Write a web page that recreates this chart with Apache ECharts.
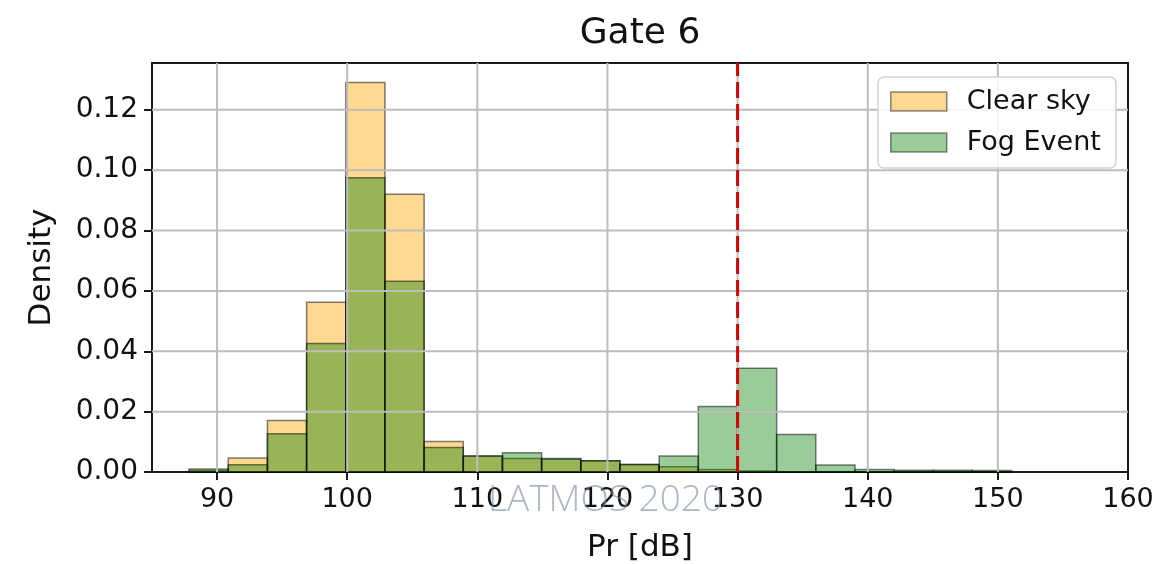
<!DOCTYPE html>
<html>
<head>
<meta charset="utf-8">
<script src="https://cdn.jsdelivr.net/npm/echarts@6/dist/echarts.min.js"></script>
<style>
  html, body { margin: 0; padding: 0; background: #fff; }
  #chart { width: 1167px; height: 564px; }
</style>
</head>
<body>
<div id="chart"></div>
<script>
// Histogram bin edges (dB) shared by both distributions
const binEdges = [87.85, 90.86, 93.87, 96.88, 99.89, 102.90, 105.91, 108.92, 111.93,
  114.94, 117.95, 120.96, 123.97, 126.98, 129.99, 133.00, 136.01, 139.02,
  142.03, 145.04, 148.05, 151.06];

// Density per bin
const clearSky = [0.0005, 0.0046, 0.0171, 0.0562, 0.1290, 0.0920, 0.0101, 0.0053,
  0.0045, 0.0042, 0.0037, 0.0025, 0.0017, 0.0008, 0.0003, 0, 0, 0, 0, 0, 0];
const fogEvent = [0.0010, 0.0024, 0.0127, 0.0426, 0.0975, 0.0632, 0.0081, 0.0053,
  0.0064, 0.0045, 0.0037, 0.0025, 0.0053, 0.0217, 0.0344, 0.0124, 0.0023,
  0.0008, 0.0006, 0.0006, 0.0005];

// Axis ticks
const xTicks = [90, 100, 110, 120, 130, 140, 150, 160];
const yTicks = [0, 0.02, 0.04, 0.06, 0.08, 0.10, 0.12];

// Threshold marker
const threshold = [130];

const seriesNames = ['Clear sky', 'Fog Event'];
const titleText = 'Gate 6';
const xName = 'Pr [dB]';
const yName = 'Density';
const watermark = 'LATMOS 2020';

const FONT = 'DejaVu Sans';
const clearFill = 'rgba(255,165,0,0.43)';
const fogFill = 'rgba(0,128,0,0.40)';
const edge = 'rgba(0,0,0,0.5)';

function histData(values) {
  return values.map((v, i) => [binEdges[i], binEdges[i + 1], v]);
}

function barRenderer(fill) {
  return function (params, api) {
    const x0 = api.value(0), x1 = api.value(1), y = api.value(2);
    const pTop = api.coord([x0, y]);
    const pBot = api.coord([x1, 0]);
    return {
      type: 'rect',
      shape: { x: pTop[0], y: pTop[1], width: pBot[0] - pTop[0], height: pBot[1] - pTop[1] },
      style: { fill: fill, stroke: edge, lineWidth: 1.5 }
    };
  };
}

const chart = echarts.init(document.getElementById('chart'));

chart.setOption({
  animation: false,
  backgroundColor: '#fff',
  title: {
    text: titleText,
    left: 640,
    textAlign: 'center',
    top: 16,
    padding: 0,
    textStyle: { fontFamily: FONT, fontSize: 36, fontWeight: 'normal', color: '#111' }
  },
  grid: {
    left: 152, top: 63, width: 976, height: 409,
    outerBoundsMode: 'none', containLabel: false,
    show: true, borderColor: '#1a1a1a', borderWidth: 2, backgroundColor: 'transparent'
  },
  legend: {
    orient: 'vertical',
    left: 878, top: 77,
    padding: [11, 15, 12, 12],
    itemWidth: 56, itemHeight: 19, itemGap: 14,
    backgroundColor: 'rgba(255,255,255,0.85)',
    borderColor: '#d2d2d2', borderWidth: 1.5, borderRadius: 6,
    icon: 'rect',
    textStyle: { fontFamily: FONT, fontSize: 27, color: '#111', lineHeight: 20, padding: [0, 0, 0, 15] },
    data: [
      { name: seriesNames[0], itemStyle: { color: clearFill, borderColor: 'rgba(0,0,0,0.45)', borderWidth: 1.5 } },
      { name: seriesNames[1], itemStyle: { color: fogFill, borderColor: 'rgba(0,0,0,0.45)', borderWidth: 1.5 } }
    ]
  },
  xAxis: {
    type: 'value', min: 85, max: 160,
    name: xName, nameLocation: 'middle', nameGap: 60,
    nameTextStyle: { fontFamily: FONT, fontSize: 31, color: '#111' },
    axisLine: { show: true, lineStyle: { color: '#1a1a1a', width: 2 } },
    axisTick: { show: true, length: 8, customValues: xTicks, lineStyle: { color: '#1a1a1a', width: 2 } },
    axisLabel: { customValues: xTicks, margin: 14, fontFamily: FONT, fontSize: 27, color: '#111' },
    splitLine: { show: false }
  },
  yAxis: {
    type: 'value', min: 0, max: 0.1355,
    name: yName, nameLocation: 'middle', nameGap: 95, nameRotate: 90,
    nameTextStyle: { fontFamily: FONT, fontSize: 31, color: '#111' },
    axisLine: { show: true, lineStyle: { color: '#1a1a1a', width: 2 } },
    axisTick: { show: true, length: 8, customValues: yTicks, lineStyle: { color: '#1a1a1a', width: 2 } },
    axisLabel: {
      customValues: yTicks, margin: 14, fontFamily: FONT, fontSize: 28, color: '#111',
      formatter: v => v.toFixed(2)
    },
    splitLine: { show: false }
  },
  series: [
    {
      name: seriesNames[0], type: 'custom', z: 2,
      itemStyle: { color: clearFill },
      encode: { x: [0, 1], y: 2 },
      renderItem: barRenderer(clearFill),
      data: histData(clearSky)
    },
    {
      name: seriesNames[1], type: 'custom', z: 2,
      itemStyle: { color: fogFill },
      encode: { x: [0, 1], y: 2 },
      renderItem: barRenderer(fogFill),
      data: histData(fogEvent)
    },
    {
      // vertical grid lines drawn above the bars
      type: 'custom', z: 3, silent: true,
      encode: { x: 0 },
      renderItem: function (params, api) {
        const cs = params.coordSys;
        const p = api.coord([api.value(0), 0]);
        return { type: 'line', shape: { x1: p[0], y1: cs.y, x2: p[0], y2: cs.y + cs.height },
          style: { stroke: '#bdbdbd', lineWidth: 2 } };
      },
      data: xTicks.slice(0, -1).map(v => [v])
    },
    {
      // horizontal grid lines drawn above the bars
      type: 'custom', z: 3, silent: true,
      encode: { y: 0 },
      renderItem: function (params, api) {
        const cs = params.coordSys;
        const p = api.coord([85, api.value(0)]);
        return { type: 'line', shape: { x1: cs.x, y1: p[1], x2: cs.x + cs.width, y2: p[1] },
          style: { stroke: '#bdbdbd', lineWidth: 2 } };
      },
      data: yTicks.slice(1).map(v => [v])
    },
    {
      // threshold line
      type: 'custom', z: 4, silent: true,
      encode: { x: 0 },
      renderItem: function (params, api) {
        const cs = params.coordSys;
        const p = api.coord([api.value(0), 0]);
        return { type: 'line', shape: { x1: p[0], y1: cs.y + cs.height, x2: p[0], y2: cs.y },
          style: { stroke: '#d20000', lineWidth: 3, lineDash: [16, 6] } };
      },
      data: threshold.map(v => [v])
    }
  ],
  graphic: [
    {
      type: 'text', left: 488, top: 482, z: 100, silent: true,
      style: {
        text: watermark, fontFamily: 'Open Sans', fontWeight: 300, fontSize: 37,
        fill: 'rgba(120,135,160,0.62)'
      }
    }
  ]
});
</script>
</body>
</html>
